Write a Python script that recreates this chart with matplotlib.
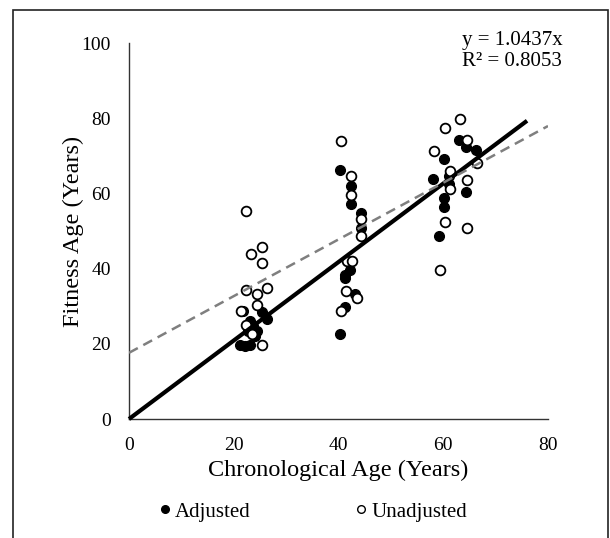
import matplotlib.pyplot as plt
import numpy as np
from matplotlib.patches import Rectangle
from matplotlib.lines import Line2D

plt.rcParams['font.family'] = ['Liberation Serif', 'DejaVu Serif']

# adjusted fitness age (filled markers)
adj_x = [21.2, 22.2, 23.1, 24.1, 21.8, 25.4, 26.4, 23.1, 23.7, 22.7, 24.5,
         40.3, 42.4, 42.4, 44.3, 44.3, 42.2, 41.2, 41.2, 43.1, 41.2, 40.3,
         63.0, 64.3, 66.2, 60.1, 58.0, 61.1, 61.1, 60.1, 60.1, 64.3, 59.2]
adj_y = [19.7, 19.5, 19.7, 22.1, 28.8, 28.5, 26.7, 26.1, 24.8, 23.5, 23.5,
         66.1, 61.9, 57.1, 54.9, 50.9, 39.5, 38.4, 37.6, 33.3, 29.9, 22.7,
         74.1, 72.3, 71.5, 69.1, 63.7, 64.5, 62.4, 58.9, 56.5, 60.3, 48.8]

# unadjusted fitness age (open markers)
unadj_x = [22.3, 23.3, 25.4, 25.4, 22.3, 26.3, 24.4, 24.4, 21.4, 22.3, 23.5, 25.4,
           40.5, 42.4, 42.4, 44.3, 44.3, 41.6, 42.6, 41.4, 43.5, 40.5,
           63.2, 60.3, 64.5, 58.2, 66.4, 61.3, 64.5, 61.3, 60.3, 64.5, 59.4]
unadj_y = [55.2, 44.0, 45.8, 41.6, 34.4, 34.9, 33.3, 30.4, 28.8, 25.1, 22.7, 19.7,
           73.9, 64.5, 59.7, 53.1, 48.8, 42.1, 42.1, 34.1, 32.3, 28.8,
           79.7, 77.3, 74.1, 71.2, 68.0, 65.9, 63.5, 61.3, 52.3, 50.9, 39.5]

slope_adj = 1.0437
slope_un, icpt_un = 0.754, 17.6

fig = plt.figure(figsize=(6.1, 5.38), dpi=100)
ax = fig.add_axes([129 / 610, 1 - 419 / 538, (548 - 129) / 610, (419 - 43) / 538])

ax.plot(adj_x, adj_y, 'o', color='black', ms=7, zorder=3)
ax.plot(unadj_x, unadj_y, 'o', mfc='white', mec='black', mew=1.3, ms=7, zorder=3)

xs = np.array([0, 76])
ax.plot(xs, slope_adj * xs, color='black', lw=3, zorder=4, solid_capstyle='butt', clip_on=False)
xd = np.array([0, 80])
ax.plot(xd, slope_un * xd + icpt_un, color='#7f7f7f', lw=1.8, ls=(0, (4, 2.5)), zorder=4)

ax.set_xlim(0, 80)
ax.set_ylim(0, 100)
ax.set_xticks([0, 20, 40, 60, 80])
ax.set_yticks([0, 20, 40, 60, 80, 100])
ax.tick_params(length=0, labelsize=14, pad=13)
for side in ['top', 'right']:
    ax.spines[side].set_visible(False)
for side in ['left', 'bottom']:
    ax.spines[side].set_linewidth(1.0)
    ax.spines[side].set_color('#333333')

ax.set_xlabel('Chronological Age (Years)', fontsize=17.5, labelpad=4)
ax.set_ylabel('Fitness Age (Years)', fontsize=17.5, labelpad=-2)

fig.text(512 / 610, 1 - 40 / 538, 'y = 1.0437x', ha='center', va='center', fontsize=15)
fig.text(512 / 610, 1 - 61 / 538, 'R² = 0.8053', ha='center', va='center', fontsize=15)

# legend below the plot
handles = [Line2D([], [], ls='none', marker='o', color='black', ms=5.5),
           Line2D([], [], ls='none', marker='o', mfc='white', mec='black', mew=1.0, ms=5.5)]
fig.legend(handles, ['Adjusted', 'Unadjusted'], loc='center', ncol=2,
           bbox_to_anchor=(313 / 610, 1 - 512 / 538), frameon=False, fontsize=15,
           handlelength=0.6, handletextpad=0.2, columnspacing=5.0)

fig.patches.append(Rectangle((13 / 610, -0.05), (608 - 13) / 610, 1.05 - 10 / 538,
                             transform=fig.transFigure, fill=False, ec='#222222', lw=1.2))

fig.savefig('out.png', dpi=100)
